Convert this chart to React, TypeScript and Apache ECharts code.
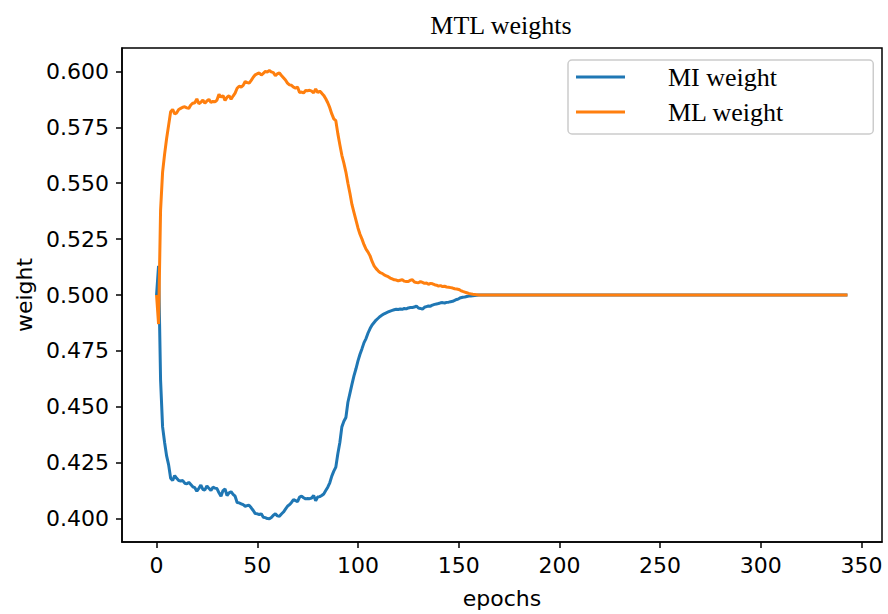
import React, { useEffect, useRef } from "react";
import * as echarts from "echarts";

const epochs: number[] = [
  0, 1, 2, 3, 4, 5, 6, 7, 8, 9, 10, 11, 12, 13, 14, 15, 16, 17, 18, 19,
  20, 21, 22, 23, 24, 25, 26, 27, 28, 29, 30, 31, 32, 33, 34, 35, 36, 37, 38, 39,
  40, 41, 42, 43, 44, 45, 46, 47, 48, 49, 50, 51, 52, 53, 54, 55, 56, 57, 58, 59,
  60, 61, 62, 63, 64, 65, 66, 67, 68, 69, 70, 71, 72, 73, 74, 75, 76, 77, 78, 79,
  80, 81, 82, 83, 84, 85, 86, 87, 88, 89, 90, 91, 92, 93, 94, 95, 96, 97, 98, 99,
  100, 101, 102, 103, 104, 105, 106, 107, 108, 109, 110, 111, 112, 113, 114, 115, 116, 117, 118, 119,
  120, 121, 122, 123, 124, 125, 126, 127, 128, 129, 130, 131, 132, 133, 134, 135, 136, 137, 138, 139,
  140, 141, 142, 143, 144, 145, 146, 147, 148, 149, 150, 151, 152, 153, 154, 155, 156, 157, 158, 159,
  160, 170, 200, 250, 300, 343,
];

const miWeight: number[] = [
  0.500, 0.513, 0.462, 0.441, 0.434, 0.428, 0.424, 0.418, 0.417, 0.4192,
  0.418, 0.417, 0.4168, 0.417, 0.4158, 0.4155, 0.4162, 0.4152, 0.4142, 0.4138,
  0.4122, 0.4135, 0.415, 0.413, 0.4128, 0.4146, 0.4135, 0.4125, 0.414, 0.4136,
  0.4134, 0.4115, 0.41, 0.4125, 0.4132, 0.4103, 0.4115, 0.412, 0.4108, 0.41,
  0.4072, 0.407, 0.4066, 0.4062, 0.4055, 0.4058, 0.4059, 0.4048, 0.4036, 0.4022,
  0.4021, 0.4018, 0.4021, 0.4006, 0.4004, 0.4, 0.3999, 0.4005, 0.4015, 0.4021,
  0.4012, 0.401, 0.402, 0.4029, 0.4042, 0.4055, 0.4062, 0.4072, 0.4085, 0.408,
  0.4076, 0.4096, 0.41, 0.4093, 0.4088, 0.409, 0.4089, 0.4092, 0.4103, 0.408,
  0.4096, 0.4098, 0.4103, 0.411, 0.4125, 0.414, 0.416, 0.419, 0.4212, 0.423,
  0.429, 0.434, 0.441, 0.4435, 0.4452, 0.452, 0.456, 0.46, 0.4638, 0.467,
  0.4705, 0.4735, 0.476, 0.4787, 0.4805, 0.483, 0.485, 0.4866, 0.4877, 0.4888,
  0.4896, 0.4904, 0.491, 0.4916, 0.492, 0.4924, 0.4928, 0.4931, 0.4934, 0.4936,
  0.4935, 0.4937, 0.4936, 0.494, 0.4938, 0.4942, 0.4944, 0.4944, 0.4946, 0.4951,
  0.4942, 0.494, 0.4937, 0.4945, 0.4948, 0.4951, 0.495, 0.4955, 0.4958, 0.496,
  0.4962, 0.4965, 0.4966, 0.4964, 0.4967, 0.4968, 0.497, 0.4972, 0.4976, 0.498,
  0.4983, 0.4988, 0.499, 0.4991, 0.4993, 0.4995, 0.4996, 0.4997, 0.4998, 0.4999,
  0.5, 0.5, 0.5, 0.5, 0.5, 0.5,
];

const mlWeight: number[] = [
  0.500, 0.487, 0.538, 0.555, 0.563, 0.570, 0.576, 0.582, 0.583, 0.581,
  0.5815, 0.583, 0.5835, 0.584, 0.5842, 0.5837, 0.5835, 0.585, 0.5858, 0.586,
  0.5877, 0.5856, 0.5862, 0.5872, 0.5858, 0.5868, 0.5875, 0.5862, 0.5866, 0.5864,
  0.5872, 0.5898, 0.5885, 0.5892, 0.587, 0.5885, 0.5892, 0.5876, 0.589, 0.5903,
  0.5925, 0.5934, 0.593, 0.5938, 0.5955, 0.595, 0.5948, 0.596, 0.5974, 0.5985,
  0.599, 0.5993, 0.5984, 0.5992, 0.6, 0.5998, 0.6004, 0.5998, 0.5995, 0.5981,
  0.599, 0.5993, 0.5982, 0.5972, 0.5962, 0.5948, 0.594, 0.5938, 0.593, 0.5926,
  0.593, 0.5906, 0.5908, 0.5904, 0.5915, 0.5914, 0.5916, 0.5912, 0.5904, 0.5922,
  0.5906, 0.5912, 0.5903, 0.5893, 0.5878, 0.586, 0.5838, 0.581, 0.5788, 0.578,
  0.5722, 0.5672, 0.5625, 0.559, 0.555, 0.55, 0.5455, 0.5405, 0.537, 0.5335,
  0.53, 0.5272, 0.525, 0.5225, 0.5205, 0.5192, 0.5175, 0.515, 0.513, 0.5118,
  0.5108, 0.51, 0.5097, 0.509, 0.5086, 0.5082, 0.5076, 0.5072, 0.5068, 0.5067,
  0.5063, 0.5066, 0.5068, 0.5062, 0.506, 0.506, 0.5066, 0.5068, 0.5058, 0.5056,
  0.5055, 0.506, 0.5056, 0.5052, 0.5054, 0.5048, 0.5052, 0.505, 0.5046, 0.5044,
  0.504, 0.5042, 0.5038, 0.5039, 0.5036, 0.5035, 0.5033, 0.5031, 0.5028, 0.5027,
  0.5025, 0.502, 0.5016, 0.5013, 0.501, 0.5007, 0.5005, 0.5003, 0.5002, 0.5001,
  0.5, 0.5, 0.5, 0.5, 0.5, 0.5,
];

const xTicks: number[] = [0, 50, 100, 150, 200, 250, 300, 350];
const yTicks: number[] = [0.4, 0.425, 0.45, 0.475, 0.5, 0.525, 0.55, 0.575, 0.6];

const seriesNames = ["MI weight", "ML weight"];

export default function App() {
  const ref = useRef<HTMLDivElement>(null);
  useEffect(() => {
    if (!ref.current) return;
    const chart = echarts.init(ref.current, undefined, { renderer: "svg" });
    const sans = "DejaVu Sans";
    const serif = "Liberation Serif";
    chart.setOption({
      animation: false,
      backgroundColor: "#ffffff",
      title: {
        text: "MTL weights",
        left: 496,
        textAlign: "center",
        top: 7,
        textStyle: { fontFamily: serif, fontSize: 26, fontWeight: "normal", color: "#000" },
      },
      legend: {
        orient: "vertical",
        left: 568,
        top: 60,
        data: seriesNames.map((n) => ({ name: n, icon: "rect" })),
        itemWidth: 49,
        itemHeight: 3,
        itemGap: 7,
        padding: [3, 89, 8, 8],
        backgroundColor: "#fff",
        borderColor: "#cccccc",
        borderWidth: 1.5,
        borderRadius: 4,
        textStyle: {
          fontFamily: serif,
          fontSize: 26,
          lineHeight: 28,
          color: "#000",
          padding: [0, 0, 0, 38],
        },
      },
      grid: {
        left: 122,
        top: 48,
        right: 6,
        bottom: 71,
        show: true,
        borderColor: "#000",
        borderWidth: 1.5,
        containLabel: false,
      },
      xAxis: {
        type: "value",
        min: -17.15,
        max: 360.15,
        name: "epochs",
        nameLocation: "middle",
        nameGap: 45,
        nameTextStyle: { fontFamily: sans, fontSize: 22, color: "#000" },
        axisLine: { show: true, onZero: false, lineStyle: { color: "#000", width: 1.5 } },
        axisTick: { show: true, length: 6, customValues: xTicks, lineStyle: { color: "#000", width: 1.5 } },
        axisLabel: {
          customValues: xTicks,
          margin: 12,
          fontFamily: sans,
          fontSize: 22,
          color: "#000",
          formatter: (v: number) => String(v),
        },
        splitLine: { show: false },
      },
      yAxis: {
        type: "value",
        min: 0.3895,
        max: 0.6105,
        name: "weight",
        nameLocation: "middle",
        nameGap: 84,
        nameTextStyle: { fontFamily: sans, fontSize: 22, color: "#000" },
        axisLine: { show: true, onZero: false, lineStyle: { color: "#000", width: 1.5 } },
        axisTick: { show: true, length: 6, customValues: yTicks, lineStyle: { color: "#000", width: 1.5 } },
        axisLabel: {
          customValues: yTicks,
          margin: 13,
          fontFamily: sans,
          fontSize: 22,
          color: "#000",
          formatter: (v: number) => v.toFixed(3),
        },
        splitLine: { show: false },
      },
      series: [
        {
          name: seriesNames[0],
          type: "line",
          data: epochs.map((e, i) => [e, miWeight[i]]),
          showSymbol: false,
          symbol: "none",
          lineStyle: { color: "#1f77b4", width: 3 },
          itemStyle: { color: "#1f77b4" },
        },
        {
          name: seriesNames[1],
          type: "line",
          data: epochs.map((e, i) => [e, mlWeight[i]]),
          showSymbol: false,
          symbol: "none",
          lineStyle: { color: "#ff7f0e", width: 3 },
          itemStyle: { color: "#ff7f0e" },
        },
      ],
    });
    return () => chart.dispose();
  }, []);
  return (
    <div
      ref={ref}
      style={{ position: "fixed", left: 0, top: 0, width: 888, height: 614, background: "#fff" }}
    />
  );
}
